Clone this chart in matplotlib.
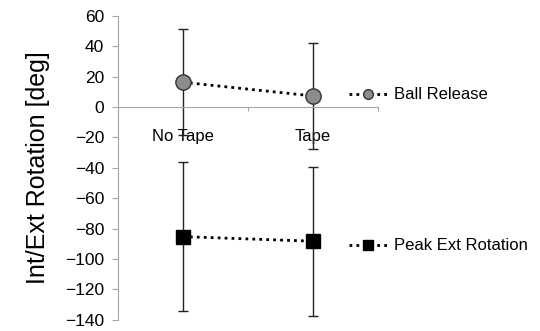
import matplotlib.pyplot as plt
from matplotlib.lines import Line2D

plt.rcParams["font.family"] = ["Liberation Sans", "DejaVu Sans"]

# data
conditions = ["No Tape", "Tape"]
ball_release = [16.3, 7.3]
ball_release_sd = [35, 35]
peak_ext = [-85.3, -88.3]
peak_ext_sd = [49, 49]
yticks = list(range(-140, 61, 20))

grey = "#a6a6a6"
x = [0.5, 1.5]

fig = plt.figure(figsize=(5.4, 3.31), dpi=100)
ax = fig.add_axes([0.2185, 0.034, 0.4815, 0.918])

ax.errorbar(x, ball_release, yerr=ball_release_sd, fmt="none", ecolor="#222222",
            elinewidth=1, capsize=3.5, capthick=1, zorder=2)
ax.errorbar(x, peak_ext, yerr=peak_ext_sd, fmt="none", ecolor="#222222",
            elinewidth=1, capsize=3.5, capthick=1, zorder=2)

ax.plot(x, ball_release, linestyle=(0, (1, 1.5)), color="black", linewidth=2,
        marker="o", markersize=11, markerfacecolor="#8c8c8c",
        markeredgecolor="#333333", markeredgewidth=1, zorder=3)
ax.plot(x, peak_ext, linestyle=(0, (1, 1.5)), color="black", linewidth=2,
        marker="s", markersize=9.5, markerfacecolor="black",
        markeredgecolor="black", zorder=3)

ax.set_xlim(0, 2)
ax.set_ylim(-140, 60)
ax.set_yticks(yticks)
ax.tick_params(axis="y", direction="out", length=4, color=grey, labelsize=12.5,
               pad=6)
ax.set_ylabel("Int/Ext Rotation [deg]", fontsize=18, labelpad=11)

# category axis crossing at zero
ax.spines["bottom"].set_position(("data", 0))
ax.spines["bottom"].set_color(grey)
ax.spines["left"].set_color(grey)
ax.spines["top"].set_visible(False)
ax.spines["right"].set_visible(False)
ax.set_xticks([0, 1, 2])
ax.set_xticklabels([])
ax.tick_params(axis="x", which="major", direction="out", length=3, color=grey)
ax.set_xticks(x, minor=True)
ax.set_xticklabels(conditions, minor=True)
ax.tick_params(axis="x", which="minor", length=0, labelsize=12, pad=16)

h1 = Line2D([], [], linestyle=(0, (1, 1.5)), color="black", linewidth=2,
            marker="o", markersize=7, markerfacecolor="#8c8c8c",
            markeredgecolor="#333333")
h2 = Line2D([], [], linestyle=(0, (1, 1.5)), color="black", linewidth=2,
            marker="s", markersize=6.5, markerfacecolor="black",
            markeredgecolor="black")
fig.legend(handles=[h1], labels=["Ball Release"], loc="center left",
           bbox_to_anchor=(0.618, 1 - 95 / 331), frameon=False,
           fontsize=12, handlelength=2.3, handletextpad=0.4)
fig.legend(handles=[h2], labels=["Peak Ext Rotation"], loc="center left",
           bbox_to_anchor=(0.618, 1 - 246 / 331), frameon=False,
           fontsize=12, handlelength=2.3, handletextpad=0.4)

plt.savefig("out.png", dpi=100)
